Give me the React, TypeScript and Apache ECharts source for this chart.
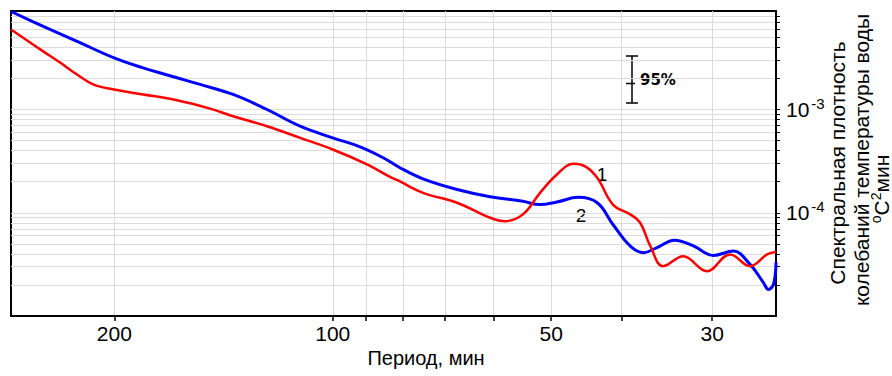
import React, { useEffect, useRef } from "react";
import * as echarts from "echarts";

// Period (min) and spectral density for curve 1 (red)
const periods1 = [277.6, 261.3, 250.6, 237.6, 225.1, 213.9, 200.1, 182.5, 163.9, 147.6, 137.2, 123.2, 110.9, 100, 89.7, 83.4, 80.8, 75.1, 67.4, 60.7, 57.9, 54.7, 51.8, 49.1, 46.6, 44.9, 43.2, 41.1, 38.9, 37.7, 36.5, 35.05, 32.9, 30.5, 28.35, 26.6, 25.2, 24.5];
const spectrum1 = [5.95e-3, 4.46e-3, 3.66e-3, 2.85e-3, 2.18e-3, 1.75e-3, 1.56e-3, 1.40e-3, 1.23e-3, 1.02e-3, 8.61e-4, 6.89e-4, 5.32e-4, 4.1e-4, 2.94e-4, 2.23e-4, 2.01e-4, 1.56e-4, 1.25e-4, 8.95e-5, 8.29e-5, 9.64e-5, 1.56e-4, 2.35e-4, 2.98e-4, 2.81e-4, 2.18e-4, 1.2e-4, 9.64e-5, 8.0e-5, 4.75e-5, 3.04e-5, 3.8e-5, 2.72e-5, 3.95e-5, 3.04e-5, 3.95e-5, 4.16e-5];

// Period (min) and spectral density for curve 2 (blue)
const periods2 = [277.6, 250.6, 225.1, 200.1, 182.5, 163.9, 152.4, 137.2, 123.2, 110.9, 100, 91.7, 85.2, 80.8, 75.1, 67.4, 60.7, 54.7, 51.8, 49.1, 45.9, 43.2, 41.1, 38.9, 37.3, 35.8, 33.8, 31.8, 29.9, 28.05, 26.6, 25.5, 25.1, 24.7, 24.5];
const spectrum2 = [8.9e-3, 6.4e-3, 4.58e-3, 3.16e-3, 2.53e-3, 2.03e-3, 1.75e-3, 1.4e-3, 1.0e-3, 6.89e-4, 5.32e-4, 4.35e-4, 3.41e-4, 2.73e-4, 2.13e-4, 1.68e-4, 1.43e-4, 1.29e-4, 1.2e-4, 1.27e-4, 1.41e-4, 1.25e-4, 7.7e-5, 4.75e-5, 4.1e-5, 4.58e-5, 5.43e-5, 4.75e-5, 3.86e-5, 4.25e-5, 3.16e-5, 2.11e-5, 1.81e-5, 2.02e-5, 3.3e-5];

const xTickValues = [200, 100, 90, 80, 70, 60, 50, 40, 30];
const xLabelValues = [200, 100, 50, 30];
const yLabelValues = [1e-4, 1e-3];
const yTickValues = [
  2e-5, 3e-5, 4e-5, 5e-5, 6e-5, 7e-5, 8e-5, 9e-5,
  1e-4, 2e-4, 3e-4, 4e-4, 5e-4, 6e-4, 7e-4, 8e-4, 9e-4,
  1e-3, 2e-3, 3e-3, 4e-3, 5e-3, 6e-3, 7e-3, 8e-3,
];

const xAxisTitle = "Период, мин";
const yTitleLines = ["Спектральная плотность", "колебаний температуры воды"];
const curveLabels = ["1", "2"];
const confidenceLabel = "95%";

const FONT = "'Liberation Sans', Arial, sans-serif";

export default function App() {
  const ref = useRef<HTMLDivElement>(null);
  useEffect(() => {
    if (!ref.current) return;
    const chart = echarts.init(ref.current, null, { renderer: "svg" });
    const option: any = {
      animation: false,
      grid: { left: 11, right: 116, top: 11, bottom: 60, show: true, borderColor: "#000", borderWidth: 2 },
      xAxis: {
        type: "log",
        logBase: 10,
        inverse: true,
        min: 24.5,
        max: 277.6,
        axisLine: { show: true, lineStyle: { color: "#000", width: 2 } },
        axisTick: { show: true, customValues: xTickValues, length: 5, lineStyle: { color: "#000", width: 1.5 } },
        axisLabel: {
          show: true,
          customValues: xLabelValues,
          margin: 7,
          fontSize: 21,
          fontFamily: FONT,
          color: "#000",
          formatter: (v: number) => String(Math.round(v)),
        },
        splitLine: { show: true, lineStyle: { color: "#dcdcdc", width: 1 } },
        minorTick: { show: false },
        minorSplitLine: { show: false },
      },
      yAxis: {
        type: "log",
        logBase: 10,
        position: "right",
        min: 1e-5,
        max: 9e-3,
        axisLine: { show: true, lineStyle: { color: "#000", width: 2 } },
        axisTick: { show: true, customValues: yTickValues, length: 4, lineStyle: { color: "#000", width: 1 } },
        axisLabel: {
          show: true,
          customValues: yLabelValues,
          margin: 10,
          color: "#000",
          formatter: (v: number) => `{b|10}{s|${Math.round(Math.log10(v))}}`,
          rich: {
            b: { fontSize: 21, fontFamily: FONT, color: "#000" },
            s: { fontSize: 15, fontFamily: FONT, color: "#000", padding: [0, 0, 12, 2] },
          },
        },
        splitLine: { show: true, lineStyle: { color: "#dcdcdc", width: 1 } },
        minorTick: { show: false },
        minorSplitLine: { show: false },
      },
      series: [
        {
          type: "line",
          name: "2",
          data: periods2.map((p, i) => [p, spectrum2[i]]),
          showSymbol: false,
          smooth: 0.4,
          lineStyle: { color: "#0000ff", width: 3 },
          z: 3,
        },
        {
          type: "line",
          name: "1",
          data: periods1.map((p, i) => [p, spectrum1[i]]),
          showSymbol: false,
          smooth: 0.4,
          lineStyle: { color: "#ff0000", width: 2.5 },
          z: 4,
        },
      ],
      graphic: [
        {
          type: "text",
          x: 426,
          y: 358,
          style: { text: xAxisTitle, fontSize: 20, fontFamily: FONT, fill: "#000", align: "center", verticalAlign: "middle" },
        },
        {
          type: "text",
          x: 837,
          y: 163,
          rotation: Math.PI / 2,
          style: { text: yTitleLines[0], fontSize: 21, fontFamily: FONT, fill: "#000", align: "center", verticalAlign: "middle" },
        },
        {
          type: "text",
          x: 861,
          y: 160,
          rotation: Math.PI / 2,
          style: { text: yTitleLines[1], fontSize: 21, fontFamily: FONT, fill: "#000", align: "center", verticalAlign: "middle" },
        },
        {
          type: "text",
          x: 881,
          y: 189,
          rotation: Math.PI / 2,
          style: {
            text: "{u|o}{m|C}{u|2}{m|мин}",
            align: "center",
            verticalAlign: "middle",
            rich: {
              u: { fontSize: 14, fontFamily: FONT, fill: "#000", padding: [0, 0, 10, 0] },
              m: { fontSize: 21, fontFamily: FONT, fill: "#000" },
            },
          },
        },
        {
          type: "text",
          x: 602,
          y: 174,
          style: { text: curveLabels[0], fontSize: 19, fontFamily: FONT, fill: "#000", align: "center", verticalAlign: "middle" },
        },
        {
          type: "text",
          x: 581,
          y: 215,
          style: { text: curveLabels[1], fontSize: 19, fontFamily: FONT, fill: "#000", align: "center", verticalAlign: "middle" },
        },
        { type: "line", shape: { x1: 632, y1: 56, x2: 632, y2: 103 }, style: { stroke: "#000", lineWidth: 1.5 } },
        { type: "line", shape: { x1: 626, y1: 56, x2: 638, y2: 56 }, style: { stroke: "#000", lineWidth: 1.5 } },
        { type: "line", shape: { x1: 626, y1: 103, x2: 638, y2: 103 }, style: { stroke: "#000", lineWidth: 1.5 } },
        { type: "line", shape: { x1: 626, y1: 83.5, x2: 635, y2: 83.5 }, style: { stroke: "#000", lineWidth: 1.5 } },
        {
          type: "text",
          x: 640,
          y: 80,
          style: { text: confidenceLabel, fontSize: 15, fontWeight: "bold", fontFamily: "'DejaVu Sans', Verdana, sans-serif", fill: "#000", align: "left", verticalAlign: "middle" },
        },
      ],
    };
    chart.setOption(option);
    return () => chart.dispose();
  }, []);
  return (
    <div
      ref={ref}
      style={{ position: "absolute", left: 0, top: 0, width: 892, height: 376, background: "#fff" }}
    />
  );
}
